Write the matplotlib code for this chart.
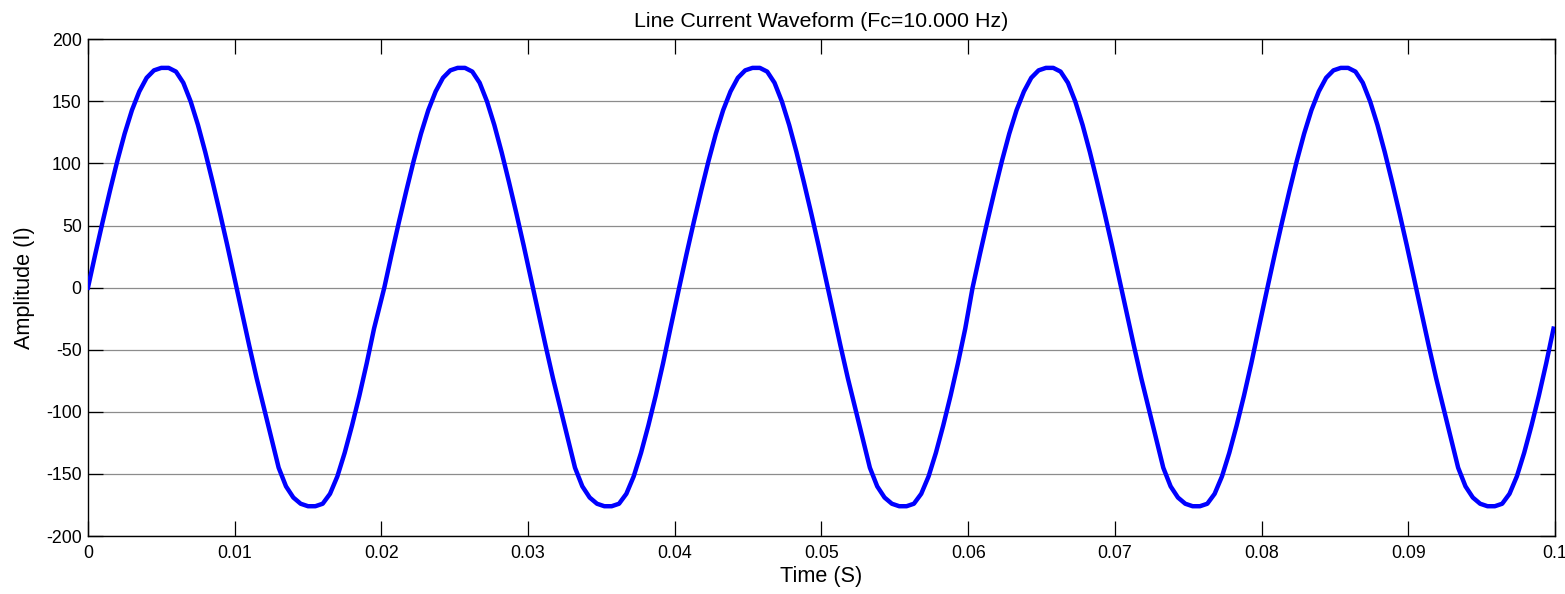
import matplotlib.pyplot as plt
import numpy as np

# one steady-state cycle at 0.5 ms steps (phase in s)
cycle_phase = np.arange(0, 0.01951, 0.0005)
cycle_amp = [
    0, 27, 53, 78, 102, 124, 143, 158, 169, 175,
    177, 177, 174, 165, 150, 131, 109, 85, 60, 34,
    7, -20, -47, -73, -97, -121, -145, -160, -169, -174,
    -176, -176, -174, -166, -152, -133, -111, -87, -61, -33,
]
# rising zero crossings of each cycle (s)
cycle_starts = [0.0, 0.0202, 0.0403, 0.0603, 0.0804]

x_ticks = [0, 0.01, 0.02, 0.03, 0.04, 0.05, 0.06, 0.07, 0.08, 0.09, 0.1]
x_labels = ["0", "0.01", "0.02", "0.03", "0.04", "0.05", "0.06", "0.07", "0.08", "0.09", "0.1"]
y_ticks = [-200, -150, -100, -50, 0, 50, 100, 150, 200]

t_parts, i_parts = [], []
for t0 in cycle_starts:
    t_parts.append(t0 + cycle_phase)
    i_parts.append(np.asarray(cycle_amp, dtype=float))
t = np.concatenate(t_parts)
amp = np.concatenate(i_parts)

plt.rcParams["font.family"] = ["Liberation Sans", "DejaVu Sans"]
plt.rcParams["axes.unicode_minus"] = False

fig = plt.figure(figsize=(15.65, 5.94), dpi=100)
ax = fig.add_axes([0.0562, 0.0976, 0.9374, 0.8362])

ax.plot(t, amp, color="#0000FF", linewidth=3.2, solid_joinstyle="round", zorder=3)

ax.set_xlim(0, 0.1)
ax.set_ylim(-200, 200)
ax.set_xticks(x_ticks)
ax.set_xticklabels(x_labels)
ax.set_yticks(y_ticks)
ax.yaxis.grid(True, color="#8c8c8c", linewidth=0.9, linestyle="-")
ax.xaxis.grid(False)
ax.set_axisbelow(True)

ax.tick_params(direction="in", length=10.5, width=0.9, top=True, right=True,
               labelsize=12.8, colors="black")
ax.tick_params(axis="x", pad=6.5)
ax.tick_params(axis="y", pad=4.5)
for s in ax.spines.values():
    s.set_linewidth(1.0)
    s.set_color("black")

ax.set_title("Line Current Waveform (Fc=10.000 Hz)", fontsize=15.4, pad=9)
ax.set_xlabel("Time (S)", fontsize=15.6)
ax.set_ylabel("Amplitude (I)", fontsize=15.6)
ax.xaxis.set_label_coords(0.5, -0.060)
ax.yaxis.set_label_coords(-0.036, 0.5)

fig.savefig("out.png", dpi=100)
